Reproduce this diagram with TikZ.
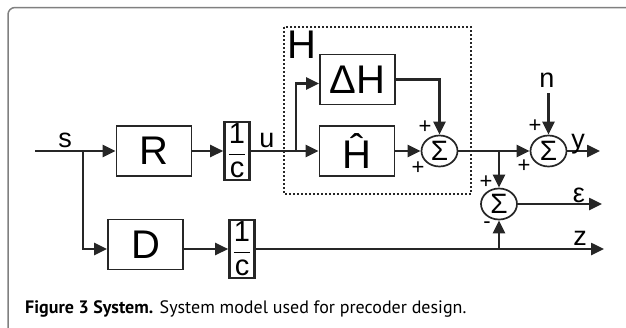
\documentclass[tikz,border=0pt]{standalone}
\usepackage{amsmath}
\usepackage{fontspec}
\setmainfont{Liberation Sans}
\newfontfamily\capfont{PT Sans}
\usetikzlibrary{arrows.meta, positioning, shapes.geometric}
\tikzset{
  blk/.style  = {rectangle, draw=black!85, line width=1.7pt, minimum width=75pt,
                 minimum height=50pt, inner sep=0pt, font=\fontsize{40}{44}\selectfont},
  frc/.style  = {rectangle, draw=black!85, line width=2.6pt, minimum width=25pt,
                 minimum height=58pt, inner sep=0pt, font=\fontsize{29}{30}\selectfont},
  sum/.style  = {ellipse, draw=black!85, line width=1.7pt, minimum width=36pt,
                 minimum height=31pt, inner sep=0pt, font=\fontsize{28}{30}\selectfont},
  sig/.style  = {-{Triangle[length=13pt, width=12pt]}, draw=black!85, line width=2.5pt},
  wire/.style = {draw=black!85, line width=2.5pt},
  lbl/.style  = {font=\fontsize{27}{28}\selectfont, inner sep=0pt, anchor=base},
  sgn/.style  = {font=\fontsize{22}{22}\selectfont, inner sep=0pt},
}

\begin{document}
\begin{tikzpicture}[x=1pt, y=-1pt,
   hbox/.style  = {draw=black!85, line width=1.5pt, dash pattern=on 2pt off 2pt},
   frame/.style = {draw=black!50, line width=1.5pt, rounded corners=7pt}]

  \useasboundingbox (0,0) rectangle (626,327);
  \draw[frame] (630,7.5) -- (8,7.5) -- (8,331);

  % ---- blocks --------------------------------------------------------------
  \node[blk] (R)  at (154,151)    {R};
  \node[frc] (c1) at (237,151)    {$\dfrac{\text{1}}{\text{c}}$};
  \node[blk] (dH) at (357.5,79.5) {ΔH};
  \node[blk] (Hh) at (357,151)    {\^{H}};
  \node[blk] (D)  at (145.5,244.5) {D};
  \node[frc] (c2) at (242,249)    {$\dfrac{\text{1}}{\text{c}}$};

  \node[sum] (s1) at (439.5,151) {Σ};
  \node[sum] (s2) at (548.5,151) {Σ};
  \node[sum] (s3) at (499,204)   {Σ};

  % the channel H
  \draw[hbox] (284,27) rectangle (471,194);
  \node[font=\fontsize{40}{44}\selectfont, inner sep=0pt] (hl) at (301.5,45) {H};

  % ---- branch points and free ends -------------------------------------------
  \coordinate (in) at (35,151);
  \coordinate (sb) at (83,151);
  \coordinate (ub) at (296,151);
  \coordinate (eb) at (499,151);
  \coordinate (zb) at (499,249);
  \coordinate (nn) at (548.5,93);
  \coordinate (yo) at (600,151);
  \coordinate (eo) at (602,204);
  \coordinate (zo) at (604,249);

  % ---- signals ---------------------------------------------------------------
  \draw[sig]  (in) -- (R);
  \draw[sig]  (sb) |- ([yshift=-4.5pt]D.west);
  \draw[sig]  (R) -- (c1);
  \draw[wire] (c1) -- (ub);
  \draw[sig]  (ub) -- (Hh);
  \draw[sig]  (ub) |- ([yshift=-4pt]dH.west);
  \draw[sig]  (dH.east) -| (s1.north);
  \draw[sig]  (Hh) -- (s1);
  \draw[sig]  (s1) -- (s2);
  \draw[sig]  (eb) -- (s3);
  \draw[sig]  (nn) -- (s2);
  \draw[sig]  (s2) -- (yo);
  \draw[sig]  (s3) -- (eo);
  \draw[sig]  ([yshift=-4.5pt]D.east) -- (c2);
  \draw[sig]  (c2) -- (zo);
  \draw[sig]  (zb) -- (s3);

  % ---- labels ----------------------------------------------------------------
  \node[lbl] (ls) at (65,147)  {s};
  \node[lbl] (lu) at (267,147) {u};
  \node[lbl] (ln) at (547,87)  {n};
  \node[lbl] (ly) at (578,148) {y};
  \node[lbl] (le) at (579,202) {ε};
  \node[lbl] (lz) at (580,245) {z};

  \node[sgn] at (425,127) {+};
  \node[sgn] at (418,168) {+};
  \node[sgn] at (535,126) {+};
  \node[sgn] at (524,166) {+};
  \node[sgn] at (486,182) {+};
  \node[sgn] at (487,225) {-};

  % ---- caption ---------------------------------------------------------------
  \node[anchor=base west, inner sep=0pt, font=\capfont\fontsize{18}{20}\selectfont]
     (cap) at (25,313) {\textbf{Figure 3 System.} System model used for precoder design.};
\end{tikzpicture}
\end{document}
